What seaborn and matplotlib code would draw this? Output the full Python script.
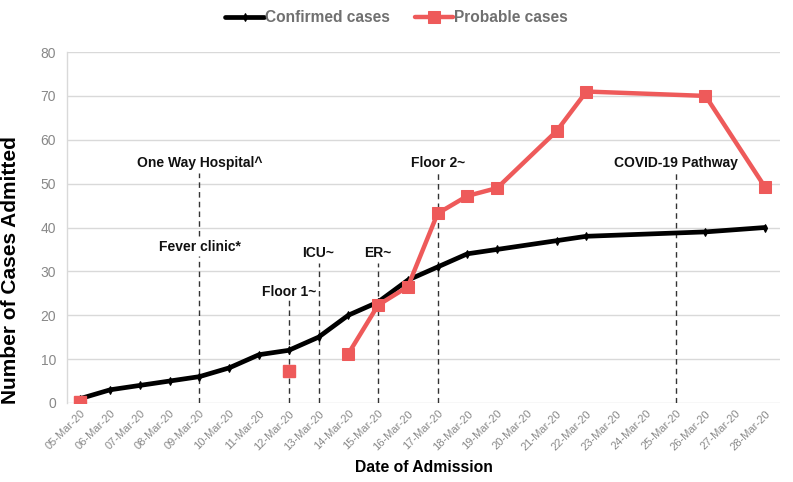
import matplotlib
matplotlib.use("Agg")
import matplotlib.pyplot as plt
import seaborn as sns
import pandas as pd
import numpy as np

dates = ["05-Mar-20", "06-Mar-20", "07-Mar-20", "08-Mar-20", "09-Mar-20", "10-Mar-20",
         "11-Mar-20", "12-Mar-20", "13-Mar-20", "14-Mar-20", "15-Mar-20", "16-Mar-20",
         "17-Mar-20", "18-Mar-20", "19-Mar-20", "20-Mar-20", "21-Mar-20", "22-Mar-20",
         "23-Mar-20", "24-Mar-20", "25-Mar-20", "26-Mar-20", "27-Mar-20", "28-Mar-20"]

confirmed_dates = ["05-Mar-20", "06-Mar-20", "07-Mar-20", "08-Mar-20", "09-Mar-20", "10-Mar-20",
                   "11-Mar-20", "12-Mar-20", "13-Mar-20", "14-Mar-20", "15-Mar-20", "16-Mar-20",
                   "17-Mar-20", "18-Mar-20", "19-Mar-20", "21-Mar-20", "22-Mar-20",
                   "26-Mar-20", "28-Mar-20"]
confirmed_values = [1, 3, 4, 5, 6, 8, 11, 12, 15, 20, 23, 28, 31, 34, 35, 37, 38, 39, 40]

probable_isolated_dates = ["05-Mar-20", "12-Mar-20"]
probable_isolated_values = [0.2, 7.3]
probable_dates = ["14-Mar-20", "15-Mar-20", "16-Mar-20", "17-Mar-20", "18-Mar-20", "19-Mar-20",
                  "21-Mar-20", "22-Mar-20", "26-Mar-20", "28-Mar-20"]
probable_values = [11.2, 22.3, 26.5, 43.2, 47.2, 49, 62, 71, 70, 49.2]

events = ["One Way Hospital^", "Fever clinic*", "Floor 1~", "ICU~", "ER~", "Floor 2~", "COVID-19 Pathway"]
event_dates = ["09-Mar-20", "09-Mar-20", "12-Mar-20", "13-Mar-20", "15-Mar-20", "17-Mar-20", "25-Mar-20"]
event_line_bottom = [38, 0, 0, 0, 0, 0, 0]
event_line_top = [52.5, 33.5, 23.5, 32, 32, 52.5, 52.5]
event_label_y = [54.7, 35.6, 25.2, 34.3, 34.3, 54.7, 54.7]

sns.set_theme(style="white")
plt.rcParams['font.family'] = ['Liberation Sans', 'DejaVu Sans']

pos = {d: i for i, d in enumerate(dates)}
df_c = pd.DataFrame({"x": [pos[d] for d in confirmed_dates], "y": confirmed_values})
df_p = pd.DataFrame({"x": [pos[d] for d in probable_dates], "y": probable_values})
df_pi = pd.DataFrame({"x": [pos[d] for d in probable_isolated_dates], "y": probable_isolated_values})

red = "#EE5A5A"
fig = plt.figure(figsize=(7.93, 4.82), dpi=100)
ax = fig.add_axes([0.0845, 0.164, 0.899, 0.728])

ax.set_ylim(0, 80)
ax.set_xlim(-0.45, 23.5)
ax.set_yticks(np.arange(0, 81, 10))
ax.yaxis.grid(True, color="#d9d9d9", linewidth=1)
ax.set_axisbelow(True)

for lab, d, b, t, ly in zip(events, event_dates, event_line_bottom, event_line_top, event_label_y):
    x = pos[d]
    ax.plot([x, x], [b, t], color="#333333", linewidth=1, dashes=(4, 3), zorder=2)
    ax.text(x, ly, lab, ha="center", va="center", fontsize=10, fontweight="bold", color="#111111", zorder=5)

sns.lineplot(data=df_c, x="x", y="y", ax=ax, color="black", linewidth=3.4,
             marker="d", markersize=4, markeredgecolor="black", label="Confirmed cases", zorder=3)
sns.lineplot(data=df_p, x="x", y="y", ax=ax, color=red, linewidth=3.2,
             marker="s", markersize=8, markeredgecolor=red, label="Probable cases", zorder=4)
ax.plot(df_pi["x"], df_pi["y"], linestyle="none", marker="s", markersize=8, color=red, zorder=4)

ax.set_xticks(range(len(dates)))
ax.set_xticklabels(dates, rotation=45, ha="right", rotation_mode="anchor", fontsize=8, color="#888888")
ax.tick_params(axis="y", labelsize=10, labelcolor="#888888", length=0, pad=8)
ax.tick_params(axis="x", length=0, pad=4)

for s in ["top", "right", "bottom"]:
    ax.spines[s].set_visible(False)
ax.spines["left"].set_color("#d9d9d9")
ax.spines["left"].set_linewidth(1)

ax.set_xlabel("Date of Admission", fontsize=11.3, fontweight="bold", color="black", labelpad=6)
ax.set_ylabel("Number of Cases Admitted", fontsize=15, fontweight="bold", color="black")
ax.yaxis.set_label_coords(-0.066, 0.38)

handles, labels = ax.get_legend_handles_labels()
ax.get_legend().remove()
leg = fig.legend(handles, labels, loc="center", bbox_to_anchor=(0.5, 0.963), ncol=2, frameon=False,
                 handlelength=2.5, handletextpad=0.05, columnspacing=1.6,
                 prop={"weight": "bold", "size": 11.2})
for txt in leg.get_texts():
    txt.set_color("#707070")

fig.savefig("out.png", dpi=100)
